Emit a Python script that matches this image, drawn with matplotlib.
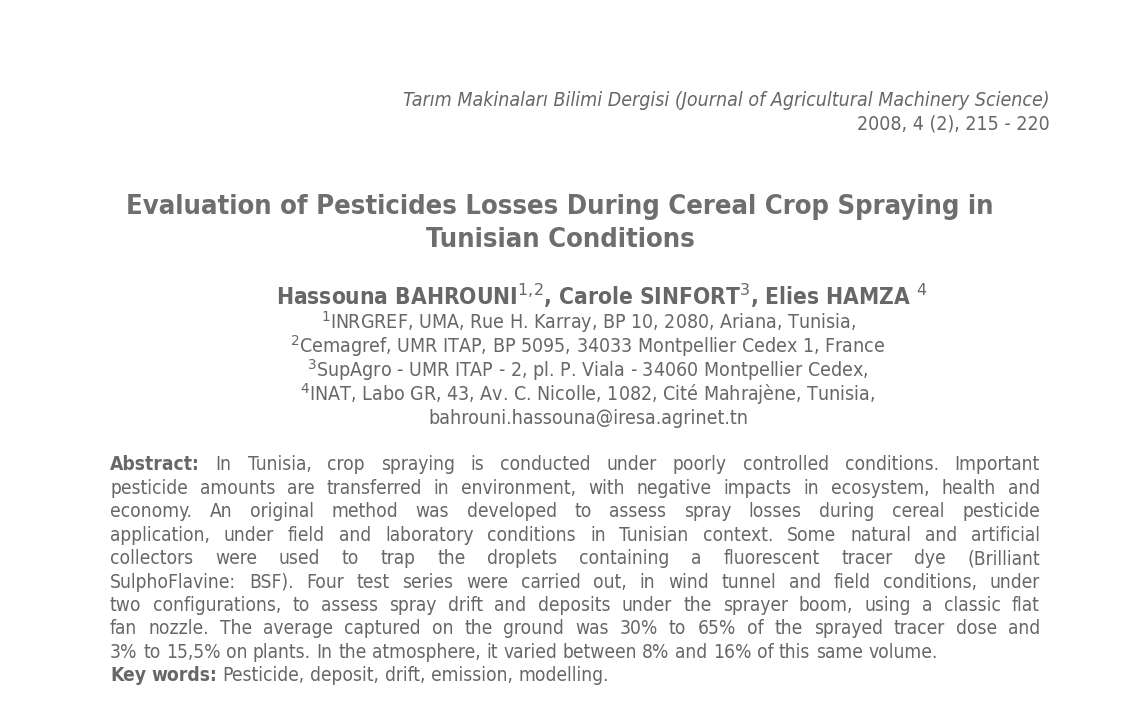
"""
Title page of a scanned journal article, redrawn as text with matplotlib.
"""
import matplotlib
matplotlib.use('Agg')
import matplotlib.pyplot as plt

W, H = 1131, 717

JOURNAL = 'Tarım Makinaları Bilimi Dergisi (Journal of Agricultural Machinery Science)'
ISSUE = '2008, 4 (2), 215 - 220'
TITLE = ['Evaluation of Pesticides Losses During Cereal Crop Spraying in',
         'Tunisian Conditions']
AUTHORS = r'Hassouna BAHROUNI$^{1,\!2}$, Carole SINFORT$^{3}$, Elies HAMZA $^{4}$'
AFFILIATIONS = [r'$^{1}$INRGREF, UMA, Rue H. Karray, BP 10, 2080, Ariana, Tunisia,',
                r'$^{2}$Cemagref, UMR ITAP, BP 5095, 34033 Montpellier Cedex 1, France',
                r'$^{3}$SupAgro - UMR ITAP - 2, pl. P. Viala - 34060 Montpellier Cedex,',
                r'$^{4}$INAT, Labo GR, 43, Av. C. Nicolle, 1082, Cité Mahrajène, Tunisia,',
                'bahrouni.hassouna@iresa.agrinet.tn']
ABSTRACT = ['**Abstract:** In Tunisia, crop spraying is conducted under poorly controlled conditions. Important',
            'pesticide amounts are transferred in environment, with negative impacts in ecosystem, health and',
            'economy. An original method was developed to assess spray losses during cereal pesticide',
            'application, under field and laboratory conditions in Tunisian context. Some natural and artificial',
            'collectors were used to trap the droplets containing a fluorescent tracer dye (Brilliant',
            'SulphoFlavine: BSF). Four test series were carried out, in wind tunnel and field conditions, under',
            'two configurations, to assess spray drift and deposits under the sprayer boom, using a classic flat',
            'fan nozzle. The average captured on the ground was 30% to 65% of the sprayed tracer dose and',
            '3% to 15,5% on plants. In the atmosphere, it varied between 8% and 16% of this same volume.',
            '**Key words:** Pesticide, deposit, drift, emission, modelling.']
JUSTIFIED = [True] * 8 + [False, False]

INK = '#676767'
FONT = dict(family='DejaVu Sans', stretch='condensed', color=INK)

fig = plt.figure(figsize=(W / 100, H / 100), dpi=100)
fig.patch.set_facecolor('white')


def px(x, y):
    return x / W, 1 - y / H


fig.text(*px(1050, 100), JOURNAL, ha='right', va='center', style='italic', fontsize=14, **FONT)
fig.text(*px(1050, 124), ISSUE, ha='right', va='center', fontsize=14, **FONT)

for y, line in zip([207, 240], TITLE):
    fig.text(*px(560, y), line, ha='center', va='center', fontsize=19.6, weight='bold', color='#6e6e6e',
             family='DejaVu Sans', stretch='condensed')

fig.text(*px(602, 296), AUTHORS, ha='center', va='center', fontsize=16.3, weight='bold', **FONT)
for i, line in enumerate(AFFILIATIONS):
    fig.text(*px(588, 322 + 24 * i), line, ha='center', va='center', fontsize=14, **FONT)

# justified abstract, word by word
renderer = fig.canvas.get_renderer()
left, right = 110, 1040
size = 13.8


def width(s, bold=False):
    t = fig.text(0, 0, s, fontsize=size, weight='bold' if bold else 'normal', **FONT)
    w = t.get_window_extent(renderer).width
    t.remove()
    return w


space = width('a a') - width('aa')
for i, (line, just) in enumerate(zip(ABSTRACT, JUSTIFIED)):
    y = 465 + 23.4 * i
    words = []
    for k, part in enumerate(line.split('**')):
        for w in part.split():
            words.append((w, k % 2 == 1))
    widths = [width(w, b) for w, b in words]
    gap = (right - left - sum(widths)) / (len(words) - 1) if just else space
    x = left
    for (w, b), wd in zip(words, widths):
        fig.text(*px(x, y), w, ha='left', va='center', fontsize=size,
                 weight='bold' if b else 'normal', **FONT)
        x += wd + gap

fig.savefig('out.png', dpi=100)
